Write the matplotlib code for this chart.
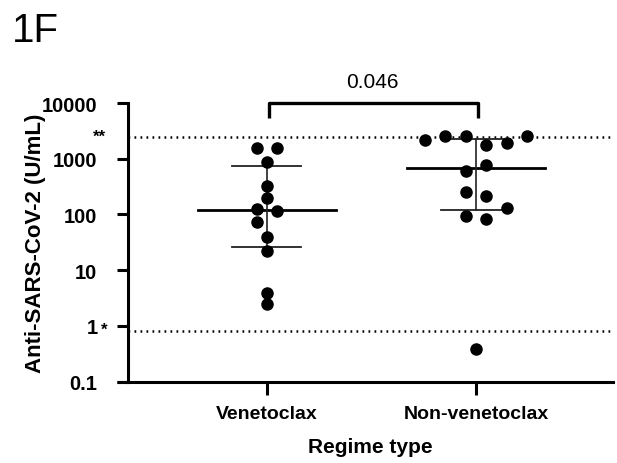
import numpy as np
import matplotlib.pyplot as plt
import matplotlib.transforms as mtransforms

plt.rcParams['font.family'] = ['Liberation Sans', 'DejaVu Sans']

# %% data
groups = ['Venetoclax', 'Non-venetoclax']
ven_values = [1540, 1540, 880, 330, 200, 128, 114, 74, 39, 22, 3.9, 2.5]
ven_jitter = [-1, 1, 0, 0, 0, -1, 1, -1, 0, 0, 0, 0]
nonven_values = [2190, 2520, 2520, 1760, 1910, 2520, 780, 594, 249, 217,
                 129, 95, 83, 0.39]
nonven_jitter = [-5, -3, -1, 1, 3, 5, 1, -1, -1, 1, 3, -1, 1, 0]
medians = [121, 681]
q1 = [26.3, 121]
q3 = [740, 2260]
upper_limit = 2500
lower_limit = 0.8
p_value = '0.046'
y_ticks = [0.1, 1, 10, 100, 1000, 10000]
y_ticklabels = ['0.1', '1', '10', '100', '1000', '10000']

# %%
fig = plt.figure(figsize=(6.17, 4.64), dpi=100)
ax = fig.add_axes([128 / 617, 81.3 / 464, 485 / 617, 278.7 / 464])
ax.set_yscale('log')
ax.set_ylim(0.1, 10000)
ax.set_xlim(-0.665, 1.656)

step = 0.049
for i, (vals, jit) in enumerate([(ven_values, ven_jitter),
                                 (nonven_values, nonven_jitter)]):
    xs = i + np.array(jit) * step
    ax.plot([i - 0.33, i + 0.33], [medians[i]] * 2, color='black', lw=2.0,
            zorder=2)
    ax.plot([i - 0.165, i + 0.165], [q1[i]] * 2, color='#222222', lw=1.3,
            zorder=2)
    ax.plot([i - 0.165, i + 0.165], [q3[i]] * 2, color='#222222', lw=1.3,
            zorder=2)
    ax.plot([i, i], [q1[i], q3[i]], color='#222222', lw=1.2, zorder=2)
    ax.plot(xs, vals, 'o', color='black', ms=8, mec='black', zorder=3,
            clip_on=False)

for lim in [upper_limit, lower_limit]:
    ax.axhline(lim, color='black', lw=1.8, ls=(0, (0.7, 1.7)), zorder=1)

# stars next to the limit lines
blend = mtransforms.blended_transform_factory(ax.transAxes, ax.transData)
ax.text(-0.058, upper_limit, '**', transform=blend, ha='center', va='center',
        fontsize=12, fontweight='bold')
ax.text(-0.05, lower_limit * 1.08, '*', transform=blend, ha='center',
        va='center', fontsize=12, fontweight='bold')

# significance bracket
ax.plot([0.01, 0.01, 1.01, 1.01], [5400, 10000, 10000, 5400], color='black',
        lw=2.4, clip_on=False, solid_capstyle='butt')
ax.text(0.505, 24000, p_value, ha='center', va='center', fontsize=15)

ax.set_xticks([0, 1])
ax.set_xticklabels(groups, fontsize=14, fontweight='bold')
ax.set_yticks(y_ticks)
ax.set_yticklabels(y_ticklabels, fontsize=14.5, fontweight='bold')
ax.yaxis.set_minor_locator(plt.NullLocator())
ax.tick_params(axis='y', length=8, width=2.2, pad=14)
ax.tick_params(axis='x', length=9.5, width=2.2, pad=7)

for s in ['top', 'right']:
    ax.spines[s].set_visible(False)
for s in ['left', 'bottom']:
    ax.spines[s].set_linewidth(2.2)
# x axis line runs a bit past the y axis
ax.plot([-11 / 485, 0], [0, 0], color='black', lw=2.2, transform=ax.transAxes,
        clip_on=False, solid_capstyle='butt')

ax.set_xlabel('Regime type', fontsize=15, fontweight='bold', labelpad=11)
fig.text(36 / 617, 1 - 243.5 / 464, 'Anti-SARS-CoV-2 (U/mL)', rotation=90,
         ha='center', va='center', fontsize=16, fontweight='bold')
fig.text(12 / 617, 1 - 31 / 464, '1F', ha='left', va='center', fontsize=29)

fig.savefig('out.png', dpi=100)
